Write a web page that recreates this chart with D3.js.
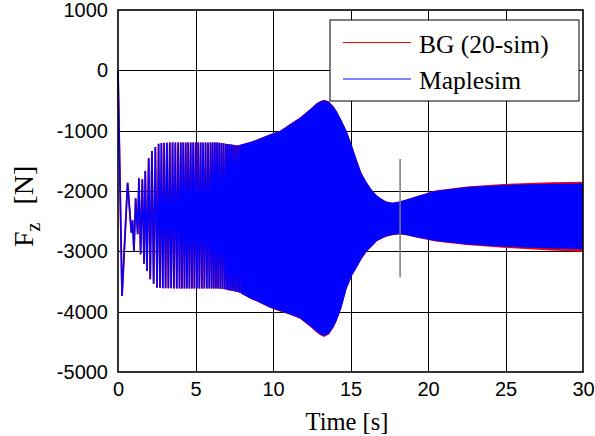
<!DOCTYPE html>
<html><head><meta charset="utf-8">
<script src="https://cdn.jsdelivr.net/npm/d3@7"></script>
<style>body{margin:0;background:#fff}svg{display:block}</style>
</head><body><svg id="c" width="595" height="436"></svg>
<script>
// ---- data ----
const xTicks = [0, 5, 10, 15, 20, 25, 30];
const yTicks = [1000, 0, -1000, -2000, -3000, -4000, -5000];
const seriesNames = ["BG (20-sim)", "Maplesim"];
const seriesColors = ["#ff0000", "#0000ff"];

// turning points of the sparse oscillating part (0 - 8 s)
const earlyT = [0, 0.26, 0.62, 0.86, 0.94, 1.03, 1.14, 1.27, 1.35, 1.46, 1.57, 1.68, 1.76, 1.87, 1.98, 2.08, 2.19, 2.30, 2.41, 2.52,
  2.62, 2.71, 2.80, 2.89, 2.98, 3.07, 3.16, 3.25, 3.34, 3.43, 3.52, 3.61, 3.70, 3.79, 3.88, 3.97,
  4.05, 4.13, 4.21, 4.29, 4.37, 4.45, 4.53, 4.61, 4.69, 4.77, 4.85, 4.93, 5.01, 5.09, 5.17, 5.25, 5.33, 5.41, 5.49, 5.57, 5.65, 5.73, 5.81, 5.89, 5.97,
  6.04, 6.11, 6.18, 6.25, 6.32, 6.39, 6.46, 6.53, 6.60, 6.67, 6.74, 6.81, 6.88, 6.95,
  7.01, 7.07, 7.13, 7.19, 7.25, 7.31, 7.37, 7.43, 7.49, 7.55, 7.61, 7.67, 7.73, 7.79, 7.85, 7.91, 7.97, 8.03];
const earlyF = [0, -3741, -1863, -2692, -2486, -2995, -2122, -2718, -1790, -3050, -1807, -3205, -1669, -3327, -1459, -3464, -1338, -3537, -1271, -3603,
  -1216, -3605, -1205, -3610, -1200, -3612, -1200, -3612, -1198, -3612, -1198, -3614, -1198, -3614, -1196, -3614,
  -1196, -3614, -1196, -3614, -1196, -3614, -1196, -3614, -1196, -3614, -1195, -3614, -1195, -3614, -1195, -3614, -1195, -3615, -1195, -3615, -1195, -3615, -1195, -3615, -1195,
  -3615, -1195, -3615, -1196, -3615, -1197, -3618, -1200, -3620, -1205, -3625, -1210, -3630, -1215,
  -3638, -1220, -3645, -1225, -3650, -1230, -3655, -1235, -3660, -1240, -3668, -1243, -3675, -1243, -3685, -1235, -3695, -1222];

// envelope of the dense part (8 - 30 s)
const denseT = [7.95, 8.6, 9.0, 9.8, 10.45, 11.1, 11.74, 12.4, 12.8, 13.05, 13.3, 13.6, 13.9, 14.1, 14.4, 14.75, 15.1, 15.4, 15.7, 16.05, 16.4, 16.7, 17.0, 17.3, 17.7, 18.1, 18.5, 19.3, 20.5, 22.5, 24.85, 27.9, 30];
const blueUpper = [-1230, -1183, -1145, -1062, -1006, -895, -786, -647, -553, -515, -497, -520, -600, -675, -820, -1006, -1250, -1480, -1700, -1860, -1990, -2075, -2130, -2175, -2195, -2180, -2150, -2085, -1995, -1935, -1900, -1880, -1872];
const blueLower = [-3700, -3790, -3830, -3930, -3990, -4045, -4110, -4240, -4330, -4380, -4405, -4370, -4260, -4155, -3950, -3620, -3400, -3272, -3130, -3000, -2910, -2830, -2790, -2755, -2730, -2718, -2725, -2770, -2830, -2885, -2925, -2955, -2970];
const redUpper = [-1228, -1181, -1143, -1060, -1003, -891, -780, -640, -546, -508, -488, -512, -594, -671, -817, -1004, -1248, -1479, -1699, -1859, -1989, -2074, -2129, -2174, -2194, -2179, -2149, -2083, -1990, -1925, -1884, -1855, -1845];
const redLower = [-3702, -3793, -3834, -3935, -3996, -4052, -4118, -4250, -4340, -4392, -4418, -4380, -4266, -4159, -3953, -3622, -3402, -3274, -3132, -3002, -2912, -2832, -2792, -2757, -2732, -2720, -2727, -2773, -2836, -2896, -2942, -2985, -3008];

// grey vertical marker
const markerT = [18.2];
const markerF = [-1470, -3430];

// ---- chart ----
const svg = d3.select("#c");
const W = 595, H = 436;
const x = d3.scaleLinear().domain([0, 30]).range([118, 583]);
const y = d3.scaleLinear().domain([-5000, 1000]).range([372, 10]);

svg.append("rect").attr("width", W).attr("height", H).attr("fill", "#fff");

// grid
const g = svg.append("g");
g.selectAll("line.gx").data(xTicks.slice(1, -1)).join("line")
  .attr("x1", d => Math.round(x(d)) + 0.5).attr("x2", d => Math.round(x(d)) + 0.5)
  .attr("y1", y(1000)).attr("y2", y(-5000)).attr("stroke", "#000").attr("stroke-width", 1);
g.selectAll("line.gy").data(yTicks.slice(1, -1)).join("line")
  .attr("y1", d => Math.round(y(d)) + 0.5).attr("y2", d => Math.round(y(d)) + 0.5)
  .attr("x1", x(0)).attr("x2", x(30)).attr("stroke", "#000").attr("stroke-width", 1);

const early = earlyT.map((t, i) => [t, earlyF[i]]);
const line = d3.line().x(d => x(d[0])).y(d => y(d[1]));
const areaRed = d3.area().x(d => x(d)).y0((d, i) => y(redLower[i])).y1((d, i) => y(redUpper[i]));
const areaBlue = d3.area().x(d => x(d)).y0((d, i) => y(blueLower[i])).y1((d, i) => y(blueUpper[i]));

// red series (BG 20-sim)
svg.append("path").datum(denseT).attr("d", areaRed).attr("fill", seriesColors[0]);
svg.append("path").datum(early).attr("d", line).attr("fill", "none").attr("stroke", seriesColors[0]).attr("stroke-width", 1.8);
// blue series (Maplesim)
svg.append("path").datum(denseT).attr("d", areaBlue).attr("fill", seriesColors[1]);
svg.append("path").datum(early).attr("d", line).attr("fill", "none").attr("stroke", seriesColors[1]).attr("stroke-width", 1.6);

// marker
svg.append("line").attr("x1", x(markerT[0])).attr("x2", x(markerT[0]))
  .attr("y1", y(markerF[0])).attr("y2", y(markerF[1])).attr("stroke", "#7a7a7a").attr("stroke-width", 1.5);

// frame
svg.append("rect").attr("x", x(0)).attr("y", y(1000)).attr("width", x(30) - x(0)).attr("height", y(-5000) - y(1000))
  .attr("fill", "none").attr("stroke", "#000").attr("stroke-width", 1.6);

// axes labels
const fmt = d => String(d);
const xAxis = d3.axisBottom(x).tickValues(xTicks).tickSize(0).tickPadding(10).tickFormat(fmt);
const ax = svg.append("g").attr("transform", `translate(0,${y(-5000)})`).call(xAxis);
ax.select(".domain").remove();
ax.selectAll("text").attr("font-family", "Liberation Sans, Arial, sans-serif").attr("font-size", 20).attr("fill", "#000");

const yAxis = d3.axisLeft(y).tickValues(yTicks).tickSize(0).tickPadding(10).tickFormat(fmt);
const ay = svg.append("g").attr("transform", `translate(${x(0)},0)`).call(yAxis);
ay.select(".domain").remove();
ay.selectAll("text").attr("font-family", "Liberation Sans, Arial, sans-serif").attr("font-size", 20).attr("fill", "#000");

svg.append("text").attr("x", 347).attr("y", 430).attr("text-anchor", "middle")
  .attr("font-family", "Liberation Serif, Times New Roman, serif").attr("font-size", 24.5).text("Time [s]");

const yl = svg.append("text").attr("transform", "translate(33,247) rotate(-90)").attr("text-anchor", "start")
  .attr("font-family", "Liberation Serif, Times New Roman, serif").attr("font-size", 28);
yl.append("tspan").text("F");
yl.append("tspan").attr("font-size", 20).attr("dy", 7).text("z");
yl.append("tspan").attr("dy", -7).attr("dx", 18).text("[N]");

// legend
const lg = svg.append("g");
lg.append("rect").attr("x", 330).attr("y", 20).attr("width", 249).attr("height", 81)
  .attr("fill", "#fff").attr("stroke", "#000").attr("stroke-width", 1);
seriesNames.forEach((name, i) => {
  const yy = 42.5 + i * 36.5;
  lg.append("line").attr("x1", 343).attr("x2", 411).attr("y1", yy).attr("y2", yy)
    .attr("stroke", seriesColors[i]).attr("stroke-width", 1);
  lg.append("text").attr("x", 419).attr("y", yy + 10).attr("font-family", "Liberation Serif, Times New Roman, serif")
    .attr("font-size", 25.5).attr("fill", "#000").text(name);
});
</script></body></html>
